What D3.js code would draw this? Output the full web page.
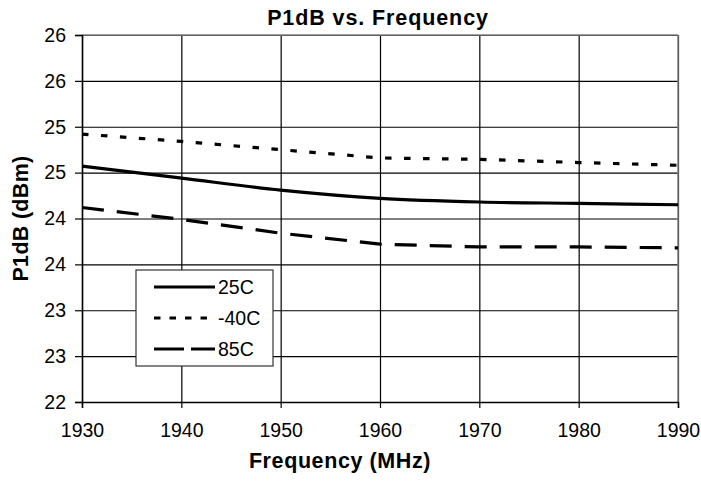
<!DOCTYPE html>
<html>
<head>
<meta charset="utf-8">
<script src="https://cdnjs.cloudflare.com/ajax/libs/d3/7.8.5/d3.min.js"></script>
<style>
  body { margin: 0; background: #fff; }
  svg { display: block; font-family: "Liberation Sans", Arial, sans-serif; }
</style>
</head>
<body>
<svg id="chart" width="701" height="481"></svg>
<script>
// data
var freqs = [1930, 1940, 1950, 1960, 1970, 1980, 1990];
var p25C = [24.57, 24.44, 24.31, 24.22, 24.18, 24.165, 24.15];
var pm40C = [24.92, 24.84, 24.75, 24.66, 24.645, 24.61, 24.58];
var p85C = [24.12, 23.99, 23.84, 23.72, 23.69, 23.69, 23.68];

var xTicks = [1930, 1940, 1950, 1960, 1970, 1980, 1990];
var yTicks = [22, 22.5, 23, 23.5, 24, 24.5, 25, 25.5, 26];
var yTickLabels = ["22", "23", "23", "24", "24", "25", "25", "26", "26"];

var series = [
    {name: "25C", values: p25C, dash: null, legendDash: null, curve: d3.curveMonotoneX},
    {name: "-40C", values: pm40C, dash: "6.5,12.5", legendDash: "6.5,9", curve: d3.curveLinear},
    {name: "85C", values: p85C, dash: "22,13", legendDash: "30,7", curve: d3.curveLinear}
];

var svg = d3.select("#chart"),
    margin = {top: 35, right: 23, bottom: 79, left: 82},
    width = 701 - margin.left - margin.right,
    height = 481 - margin.top - margin.bottom;

var x = d3.scaleLinear().domain([1930, 1990]).range([0, width]),
    y = d3.scaleLinear().domain([22, 26]).range([height, 0]);

var g = svg.append("g")
    .attr("transform", "translate(" + margin.left + "," + margin.top + ")");

// horizontal grid
g.append("g")
    .attr("class", "grid grid--y")
    .call(d3.axisLeft(y).tickValues(yTicks).tickSize(-width).tickFormat(""))
    .call(function (s) {
        s.select(".domain").remove();
        s.selectAll("line").attr("stroke", "#000").attr("stroke-width", 1.2);
    });

// vertical grid
g.append("g")
    .attr("class", "grid grid--x")
    .attr("transform", "translate(0," + height + ")")
    .call(d3.axisBottom(x).tickValues(xTicks).tickSize(-height).tickFormat(""))
    .call(function (s) {
        s.select(".domain").remove();
        s.selectAll("line").attr("stroke", "#000").attr("stroke-width", 1.2);
    });

// plot border (top and right gray)
g.append("line").attr("x1", 0).attr("x2", width).attr("y1", 0).attr("y2", 0)
    .attr("stroke", "#808080").attr("stroke-width", 1.5);
g.append("line").attr("x1", width).attr("x2", width).attr("y1", 0).attr("y2", height)
    .attr("stroke", "#808080").attr("stroke-width", 1.5);

// Y axis
g.append("g")
    .attr("class", "axis axis--y")
    .call(d3.axisLeft(y).tickValues(yTicks).tickSize(7).tickPadding(9)
        .tickFormat(function (d, i) { return yTickLabels[i]; }))
    .call(function (s) {
        s.select(".domain").attr("stroke", "#000").attr("stroke-width", 1.5);
        s.selectAll("line").attr("stroke", "#000").attr("stroke-width", 1.2);
        s.selectAll("text").attr("fill", "#000").attr("font-size", "19.5px")
            .attr("font-family", "Liberation Sans, Arial, sans-serif");
    });

// X axis
g.append("g")
    .attr("class", "axis axis--x")
    .attr("transform", "translate(0," + height + ")")
    .call(d3.axisBottom(x).tickValues(xTicks).tickSize(6).tickPadding(15)
        .tickFormat(d3.format("d")))
    .call(function (s) {
        s.select(".domain").attr("stroke", "#000").attr("stroke-width", 1.5);
        s.selectAll("line").attr("stroke", "#000").attr("stroke-width", 1.2);
        s.selectAll("text").attr("fill", "#000").attr("font-size", "19.5px")
            .attr("font-family", "Liberation Sans, Arial, sans-serif");
    });

// lines
series.forEach(function (s) {
    var line = d3.line()
        .x(function (d, i) { return x(freqs[i]); })
        .y(function (d) { return y(d); })
        .curve(s.curve);
    g.append("path")
        .datum(s.values)
        .attr("fill", "none")
        .attr("stroke", "#000")
        .attr("stroke-width", 3.2)
        .attr("stroke-dasharray", s.dash)
        .attr("d", line);
});

// title
svg.append("text")
    .attr("x", 378)
    .attr("y", 25)
    .attr("text-anchor", "middle")
    .attr("font-size", "21.5px")
    .attr("font-weight", "bold")
    .attr("letter-spacing", "0.9px")
    .text("P1dB vs. Frequency");

// x caption
svg.append("text")
    .attr("x", 340)
    .attr("y", 468)
    .attr("text-anchor", "middle")
    .attr("font-size", "21.5px")
    .attr("font-weight", "bold")
    .attr("letter-spacing", "0.6px")
    .text("Frequency (MHz)");

// y caption
svg.append("text")
    .attr("transform", "translate(28," + (margin.top + height / 2) + ") rotate(-90)")
    .attr("text-anchor", "middle")
    .attr("font-size", "21.5px")
    .attr("font-weight", "bold")
    .attr("letter-spacing", "0.3px")
    .text("P1dB (dBm)");

// legend
var legend = svg.append("g").attr("transform", "translate(136,270)");
legend.append("rect")
    .attr("width", 137).attr("height", 96)
    .attr("fill", "#fff").attr("stroke", "#333").attr("stroke-width", 1.2);
series.forEach(function (s, i) {
    var ly = 17 + i * 31;
    legend.append("line")
        .attr("x1", 18).attr("x2", 79).attr("y1", ly).attr("y2", ly)
        .attr("stroke", "#000").attr("stroke-width", 3.2)
        .attr("stroke-dasharray", s.legendDash);
    legend.append("text")
        .attr("x", 82).attr("y", ly)
        .attr("dy", "0.35em")
        .attr("font-size", "19.5px")
        .text(s.name);
});
</script>
</body>
</html>
